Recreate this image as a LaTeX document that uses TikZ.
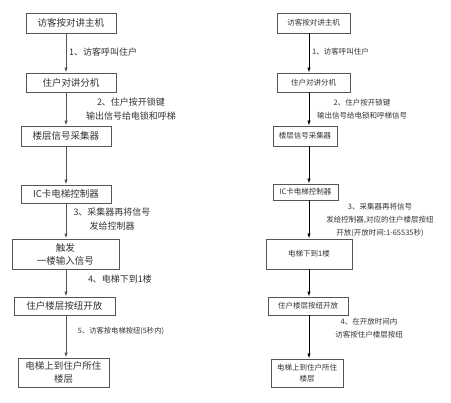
\documentclass[tikz,border=0pt]{standalone}
\usepackage{fontspec}
\setmainfont{Noto Sans CJK SC}
\usetikzlibrary{arrows.meta}
\definecolor{txt}{HTML}{333333}
\definecolor{bline}{HTML}{555555}
\tikzset{
  box/.style={draw=bline, line width=0.9pt, inner sep=0pt, text=txt, align=center},
  lbox/.style={box, font=\fontsize{9.5}{13}\selectfont},
  rbox/.style={box, font=\fontsize{7.5}{11}\selectfont},
  larr/.style={draw=bline, line width=1pt, -{Latex[length=5pt,width=3.5pt]}},
  rarr/.style={draw=black, line width=0.9pt, -{Latex[length=5pt,width=3.5pt]}},
  llab/.style={text=txt, inner sep=0pt, align=center, font=\fontsize{9}{14}\selectfont},
  rlab/.style={text=txt, inner sep=0pt, align=center, font=\fontsize{7.5}{13}\selectfont},
}
\begin{document}
\begin{tikzpicture}[x=1pt,y=-1pt]
\useasboundingbox (0,0) rectangle (451,403);
% left column
\node[lbox, minimum width=90pt, minimum height=20pt] (L1) at (71,23) {访客按对讲主机};
\node[lbox, minimum width=90pt, minimum height=19pt] (L2) at (71,82.5) {住户对讲分机};
\node[lbox, minimum width=90pt, minimum height=20pt] (L3) at (66,136) {楼层信号采集器};
\node[lbox, minimum width=90pt, minimum height=18pt] (L4) at (66,194) {IC卡电梯控制器};
\node[lbox, minimum width=107pt, minimum height=30pt] (L5) at (65.5,254) {触发\\一楼输入信号};
\node[lbox, minimum width=101pt, minimum height=18pt] (L6) at (64.5,306) {住户楼层按纽开放};
\node[lbox, minimum width=91pt, minimum height=29pt] (L7) at (63.5,372.5) {电梯上到住户所住\\楼层};
\coordinate (lx) at (66,0);
\draw[larr] (L1.south -| lx) -- (L2.north -| lx);
\draw[larr] (L2.south -| lx) -- (L3.north -| lx);
\draw[larr] (L3.south -| lx) -- (L4.north -| lx);
\draw[larr] (L4.south -| lx) -- (L5.north -| lx);
\draw[larr] (L5.south -| lx) -- (L6.north -| lx);
\draw[larr] (L6.south -| lx) -- (L7.north -| lx);
\node[llab, anchor=west] (l1) at (69,52) {1、访客呼叫住户};
\node[llab] (l2) at (131,109) {2、住户按开锁键\\输出信号给电锁和呼梯};
\node[llab] (l3) at (112,219) {3、采集器再将信号\\发给控制器};
\node[llab] (l4) at (120,279) {4、电梯下到1楼};
\node[llab, font=\fontsize{7.3}{10}\selectfont] (l5) at (121,331) {5、访客按电梯按纽(5秒内)};
% right column
\node[rbox, minimum width=73pt, minimum height=20pt] (R1) at (313.5,23) {访客按对讲主机};
\node[rbox, minimum width=73pt, minimum height=19pt] (R2) at (313.5,82.5) {住户对讲分机};
\node[rbox, minimum width=64pt, minimum height=20pt] (R3) at (305,136) {楼层信号采集器};
\node[rbox, minimum width=65pt, minimum height=16pt] (R4) at (305.5,192) {IC卡电梯控制器};
\node[rbox, minimum width=86pt, minimum height=30pt] (R5) at (309,254) {电梯下到1楼};
\node[rbox, minimum width=80pt, minimum height=18pt] (R6) at (308,306) {住户楼层按纽开放};
\node[rbox, minimum width=72pt, minimum height=28pt] (R7) at (307,373) {电梯上到住户所住\\楼层};
\coordinate (rx) at (309,0);
\draw[rarr] (R1.south -| rx) -- (R2.north -| rx);
\draw[rarr] (R2.south -| rx) -- (R3.north -| rx);
\draw[rarr] (R3.south -| rx) -- (R4.north -| rx);
\draw[rarr] (R4.south -| rx) -- (R5.north -| rx);
\draw[rarr] (R5.south -| rx) -- (R6.north -| rx);
\draw[rarr] (R6.south -| rx) -- (R7.north -| rx);
\node[rlab, anchor=west] (r1) at (312,52) {1、访客呼叫住户};
\node[rlab] (r2) at (362,109.5) {2、住户按开锁键\\输出信号给电锁和呼梯信号};
\node[rlab] (r3) at (380,220) {3、采集器再将信号\\发给控制器,对应的住户楼层按纽\\开放(开放时间:1-65535秒)};
\node[rlab] (r4) at (369,328.5) {4、在开放时间内\\访客按住户楼层按纽};
\end{tikzpicture}
\end{document}
